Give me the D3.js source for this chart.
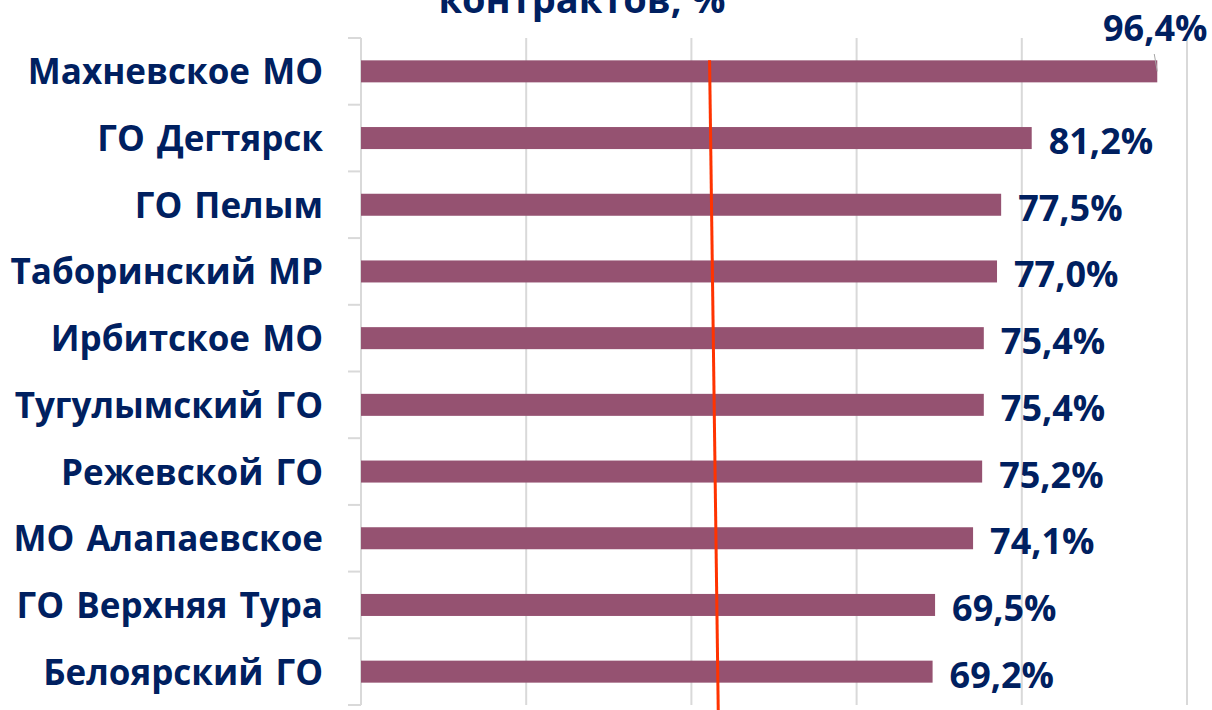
<!DOCTYPE html>
<html>
<head>
<meta charset="utf-8">
<script src="https://cdn.jsdelivr.net/npm/d3@7"></script>
<style>
  body { margin: 0; background: #fff; }
  text { font-family: 'Open Sans', 'Noto Sans', sans-serif; font-weight: bold; fill: #002060; }
</style>
</head>
<body>
<div id="chart"></div>
<script>
let categories = ['Махневское МО', 'ГО Дегтярск', 'ГО Пелым', 'Таборинский МР', 'Ирбитское МО',
    'Тугулымский ГО', 'Режевской ГО', 'МО Алапаевское', 'ГО Верхняя Тура', 'Белоярский ГО']
let values = [96.4, 81.2, 77.5, 77.0, 75.4, 75.4, 75.2, 74.1, 69.5, 69.2]
let gridTicks = [0, 20, 40, 60, 80, 100]
let redLine = [42.2, 43.25]
let titleText = 'контрактов, %'

let width = 1212
let height = 710
let margin = {top: 38, right: 25, bottom: 5, left: 361}
let barColor = '#955271'
let gridColor = '#d9d9d9'

let svg = d3.select('#chart').append('svg')
    .attr('width', width)
    .attr('height', height)

let x = d3.scaleLinear()
    .domain([0, 100])
    .range([margin.left, width - margin.right])

let y = d3.scaleBand()
    .domain(categories)
    .range([margin.top, height - margin.bottom])
    .paddingInner(0.67)
    .paddingOuter(0.335)

// title (only the tail of it fits)
svg.append('text')
    .attr('x', 582)
    .attr('y', 13)
    .attr('text-anchor', 'middle')
    .style('font-size', '38px')
    .text(titleText)

// gridlines
svg.append('g').selectAll('line')
    .data(gridTicks)
    .join('line')
    .attr('x1', d => x(d))
    .attr('x2', d => x(d))
    .attr('y1', margin.top)
    .attr('y2', height - margin.bottom)
    .attr('stroke', gridColor)
    .attr('stroke-width', 2)

// category tick marks on band boundaries
let halfGap = y.step() * y.paddingInner() / 2
let boundary = i => i < categories.length
    ? y(categories[i]) - halfGap
    : y(categories[i - 1]) + y.bandwidth() + halfGap
svg.append('g').selectAll('line')
    .data(d3.range(categories.length + 1))
    .join('line')
    .attr('x1', x(0) - 13)
    .attr('x2', x(0))
    .attr('y1', boundary)
    .attr('y2', boundary)
    .attr('stroke', gridColor)
    .attr('stroke-width', 2)

// bars
svg.append('g').selectAll('rect')
    .data(values)
    .join('rect')
    .attr('x', x(0))
    .attr('y', (d, i) => y(categories[i]))
    .attr('width', d => x(d) - x(0))
    .attr('height', y.bandwidth())
    .attr('fill', barColor)

// category labels
svg.append('g').selectAll('text')
    .data(categories)
    .join('text')
    .attr('x', x(0) - 38)
    .attr('y', d => y(d) + y.bandwidth() / 2 + 13)
    .attr('text-anchor', 'end')
    .style('font-size', '35px')
    .style('word-spacing', '3px')
    .text(d => d)

// value labels
let fmt = v => v.toFixed(1).replace('.', ',') + '%'
svg.append('g').selectAll('text')
    .data(values)
    .join('text')
    .attr('x', (d, i) => i === 0 ? x(d) - 2 : x(d) + 17)
    .attr('y', (d, i) => i === 0 ? 41 : y(categories[i]) + y.bandwidth() / 2 + 16)
    .attr('text-anchor', (d, i) => i === 0 ? 'middle' : 'start')
    .style('font-size', '36px')
    .text(fmt)

// leader line for the top label
svg.append('line')
    .attr('x1', x(values[0]) - 3)
    .attr('x2', x(values[0]))
    .attr('y1', 54)
    .attr('y2', y(categories[0]) + y.bandwidth() / 2)
    .attr('stroke', '#a6a6a6')
    .attr('stroke-width', 1)

// red reference line
svg.append('line')
    .attr('x1', x(redLine[0]))
    .attr('x2', x(redLine[1]))
    .attr('y1', y(categories[0]))
    .attr('y2', height)
    .attr('stroke', '#ff3300')
    .attr('stroke-width', 3)
</script>
</body>
</html>
